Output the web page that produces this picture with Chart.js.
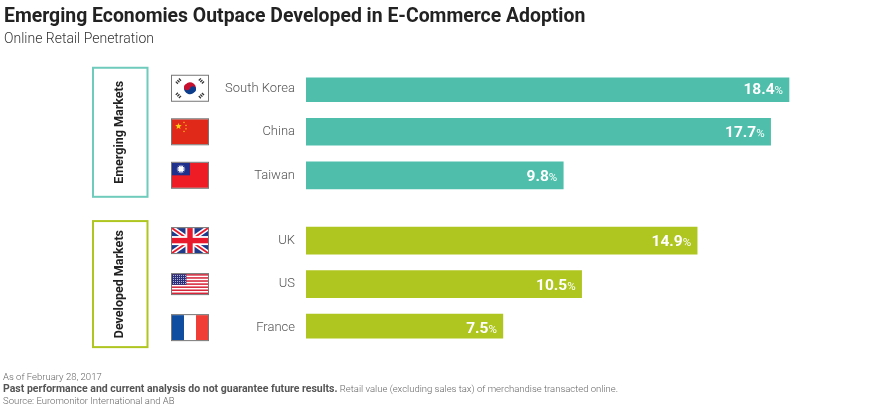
<!DOCTYPE html>
<html><head><meta charset="utf-8">
<style>html,body{margin:0;padding:0;background:#fff}canvas{display:block}</style>
<script src="https://cdn.jsdelivr.net/npm/chart.js@4"></script>
</head><body><canvas id="c" width="880" height="407"></canvas>
<script>
const titleText = "Emerging Economies Outpace Developed in E-Commerce Adoption";
const subtitleText = "Online Retail Penetration";
const categories = ["South Korea","","China","","Taiwan","","","UK","","US","","France"];
const emergingValues = [18.4,null,17.7,null,9.8,null,null,null,null,null,null,null];
const developedValues = [null,null,null,null,null,null,null,14.9,null,10.5,null,7.5];
const groupNames = ["Emerging Markets","Developed Markets"];
const footLine1 = "As of February 28, 2017";
const footBold = "Past performance and current analysis do not guarantee future results.";
const footRest = " Retail value (excluding sales tax) of merchandise transacted online.";
const footLine3 = "Source: Euromonitor International and AB";

const TEAL="#4fbfab", GREEN="#afc621";

function rect(c,col,x,y,w,h){c.fillStyle=col;c.fillRect(x,y,w,h);}
const flags={
 "South Korea":(c,x,y,w,h)=>{
  rect(c,"#fff",x,y,w,h);
  const cx=x+w/2,cy=y+h/2,r=6;
  c.fillStyle="#c8102e";c.beginPath();c.arc(cx,cy,r,Math.PI*1.1,Math.PI*0.1);c.fill();
  c.fillStyle="#0b3d8c";c.beginPath();c.arc(cx,cy,r,Math.PI*0.1,Math.PI*1.1);c.fill();
  c.fillStyle="#c8102e";c.beginPath();c.arc(cx-3,cy-1,3,0,Math.PI*2);c.fill();
  c.fillStyle="#0b3d8c";c.beginPath();c.arc(cx+3,cy+1,3,0,Math.PI*2);c.fill();
  c.strokeStyle="#333";c.lineWidth=3;
  [[-1,-1],[1,-1],[-1,1],[1,1]].forEach(([a,b])=>{
   const px=cx+a*11.5,py=cy+b*7.2;
   c.save();c.translate(px,py);c.rotate(a*b>0?-Math.PI/4:Math.PI/4);
   c.setLineDash([1.3,0.9]);c.beginPath();c.moveTo(-3,0);c.lineTo(3,0);c.stroke();c.setLineDash([]);
   c.restore();
  });
 },
 "China":(c,x,y,w,h)=>{
  rect(c,"#e1291a",x,y,w,h);
  const star=(sx,sy,r)=>{c.fillStyle="#fcd116";c.beginPath();
   for(let i=0;i<10;i++){const a=-Math.PI/2+i*Math.PI/5,q=i%2?r*0.42:r;c.lineTo(sx+q*Math.cos(a),sy+q*Math.sin(a));}
   c.closePath();c.fill();};
  star(x+6.5,y+7,3.4);[[12,3],[14,6],[14,9.5],[12,12]].forEach(([a,b])=>star(x+a,y+b,1.1));
 },
 "Taiwan":(c,x,y,w,h)=>{
  rect(c,"#ee1c25",x,y,w,h);
  rect(c,"#1f2f8c",x,y,w/2,h/2);
  const cx=x+w/4,cy=y+h/4;
  c.fillStyle="#fff";
  for(let i=0;i<12;i++){const a=i*Math.PI/6;c.beginPath();c.moveTo(cx+4.6*Math.cos(a),cy+4.6*Math.sin(a));
   c.lineTo(cx+2.7*Math.cos(a+0.26),cy+2.7*Math.sin(a+0.26));c.lineTo(cx+2.7*Math.cos(a-0.26),cy+2.7*Math.sin(a-0.26));c.fill();}
  c.beginPath();c.arc(cx,cy,2.7,0,Math.PI*2);c.fill();
 },
 "UK":(c,x,y,w,h)=>{
  rect(c,"#1f3a8a",x,y,w,h);
  c.save();c.beginPath();c.rect(x,y,w,h);c.clip();
  c.strokeStyle="#fff";c.lineWidth=5;
  c.beginPath();c.moveTo(x,y);c.lineTo(x+w,y+h);c.moveTo(x+w,y);c.lineTo(x,y+h);c.stroke();
  c.strokeStyle="#e8192c";c.lineWidth=1.8;
  c.beginPath();c.moveTo(x,y);c.lineTo(x+w,y+h);c.moveTo(x+w,y);c.lineTo(x,y+h);c.stroke();
  c.restore();
  rect(c,"#fff",x+w/2-4.5,y,9,h);rect(c,"#fff",x,y+h/2-4.5,w,9);
  rect(c,"#e8192c",x+w/2-2.7,y,5.4,h);rect(c,"#e8192c",x,y+h/2-2.7,w,5.4);
 },
 "US":(c,x,y,w,h)=>{
  rect(c,"#fff",x,y,w,h);
  for(let i=0;i<7;i++)rect(c,"#d6263a",x,y+i*2*h/13,w,h/13);
  rect(c,"#2c2f7a",x,y,w*0.4,h*7/13);
  c.fillStyle="#cfd2ea";
  for(let r=0;r<5;r++)for(let k=0;k<7;k++)c.fillRect(x+1+k*2,y+1+r*2,0.9,0.9);
 },
 "France":(c,x,y,w,h)=>{
  rect(c,"#0f4da0",x,y,w/3,h);rect(c,"#fff",x+w/3,y,w/3,h);rect(c,"#f03e36",x+2*w/3,y,w/3,h);
 }
};

const decor={
 id:"decor",
 afterDatasetsDraw(chart){
  const c=chart.ctx, ys=chart.scales.y, xs=chart.scales.x;
  c.save();
  categories.forEach((n,i)=>{
   if(!n)return;
   const yc=ys.getPixelForValue(i), h=n==="US"?20:25, x=172, w=36, y=yc-h/2;
   flags[n](c,x,y,w,h);
   c.strokeStyle="#777";c.lineWidth=1;c.setLineDash([]);c.strokeRect(x-.5,y-.5,w+1,h+1);
  });
  c.textBaseline="alphabetic";
  [emergingValues,developedValues].forEach(arr=>arr.forEach((v,i)=>{
   if(v==null)return;
   const xr=xs.getPixelForValue(v)-6, yb=ys.getPixelForValue(i)+5.5;
   c.fillStyle="#fff";c.textAlign="right";
   c.font="400 11.5px Roboto";c.fillText("%",xr,yb);
   const pw=c.measureText("%").width;
   c.font="700 15.5px Roboto";c.fillText(v.toFixed(1),xr-pw,yb);
  }));
  [[groupNames[0],"#6fcbbb",0,4,20.5,21.5],[groupNames[1],GREEN,7,11,19.5,19.5]].forEach(([t,col,a,b,pt,pb])=>{
   const top=ys.getPixelForValue(a)-pt, bot=ys.getPixelForValue(b)+pb;
   c.strokeStyle=col;c.lineWidth=2;c.strokeRect(93,top,54.5,bot-top);
   c.save();c.translate(120,(top+bot)/2);c.rotate(-Math.PI/2);
   c.fillStyle="#222";c.font="700 12.5px Roboto";c.textAlign="center";c.textBaseline="middle";
   c.fillText(t,0,0);c.restore();
  });
  c.textAlign="left";c.textBaseline="alphabetic";c.fillStyle="#666";
  c.font="300 9.5px Roboto";c.fillText(footLine1,3,380);
  c.font="700 10.5px Roboto";c.fillStyle="#555";c.fillText(footBold,3,392);
  const w=c.measureText(footBold).width;
  c.font="300 9.5px Roboto";c.fillStyle="#666";c.fillText(footRest,3+w,392);
  c.fillText(footLine3,3,404);
  c.restore();
 }
};

new Chart(document.getElementById("c"),{
 type:"bar",
 data:{labels:categories,datasets:[
  {data:emergingValues,backgroundColor:TEAL,barThickness:27,stack:"a"},
  {data:developedValues,backgroundColor:GREEN,barThickness:27,stack:"a"}
 ]},
 plugins:[decor],
 options:{
  indexAxis:"y",responsive:false,animation:false,devicePixelRatio:1,
  layout:{padding:{left:4,right:49,top:0,bottom:68.5}},
  scales:{
   x:{display:false,min:0,max:20,stacked:true},
   y:{stacked:true,grid:{display:false},border:{display:false},
      afterFit(s){s.width=302;},
      ticks:{autoSkip:false,padding:3,color:"#555",font:{family:"Roboto",weight:"300",size:13}}}
  },
  plugins:{
   legend:{display:false},tooltip:{enabled:false},
   title:{display:true,text:titleText,align:"start",color:"#222",padding:{top:6,bottom:0},
     font:{family:"Roboto",weight:"700",size:19.4}},
   subtitle:{display:true,text:subtitleText,align:"start",color:"#333",padding:{top:2,bottom:29.3},
     font:{family:"Roboto",weight:"300",size:14}}
  }
 }
});
</script></body></html>
